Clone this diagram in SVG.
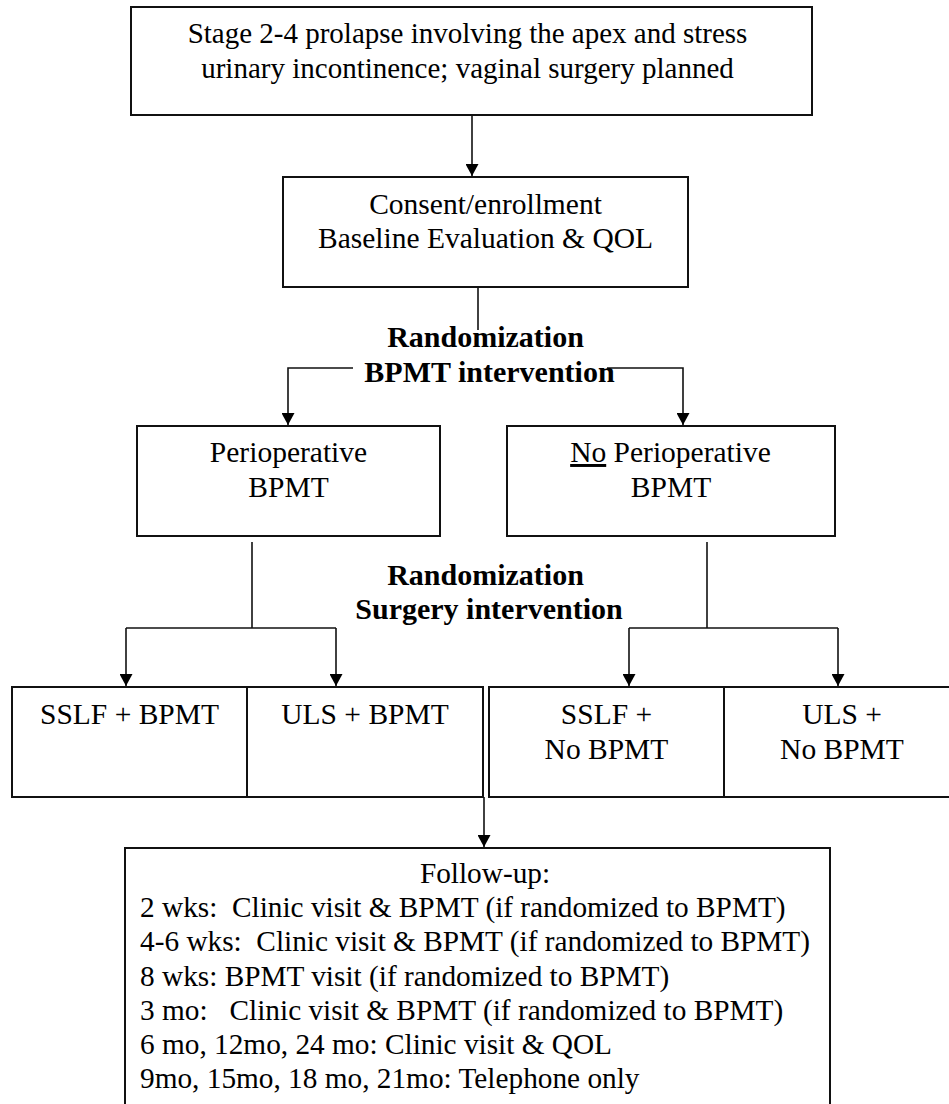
<svg xmlns="http://www.w3.org/2000/svg" width="949" height="1104" viewBox="0 0 949 1104">
<style>
.box{fill:#fff;stroke:#111;stroke-width:2}
.t{font-family:"Liberation Serif","Times New Roman",serif;font-size:29.5px;fill:#000;text-anchor:middle}
.b{font-family:"Liberation Serif","Times New Roman",serif;font-size:30px;font-weight:bold;fill:#000;text-anchor:middle}
.f{font-family:"Liberation Serif","Times New Roman",serif;font-size:29.3px;fill:#000;white-space:pre}
.c{fill:none;stroke:#111;stroke-width:1.6}
</style>
<defs>
<marker id="ah" viewBox="0 0 12 13" refX="12" refY="6.5" markerWidth="12" markerHeight="13" markerUnits="userSpaceOnUse" orient="auto">
<path d="M0,0 L12,6.5 L0,13 z" fill="#000"/>
</marker>
</defs>
<rect width="949" height="1104" fill="#fff"/>

<g id="connectors">
<path class="c" d="M472,115 V176" marker-end="url(#ah)"/>
<path class="c" d="M478,287 V330"/>
<path class="c" d="M353,368 H288 V425" marker-end="url(#ah)"/>
<path class="c" d="M607,368 H683 V425" marker-end="url(#ah)"/>
<path class="c" d="M252,542 V628"/>
<path class="c" d="M126,628 H336"/>
<path class="c" d="M126,628 V686" marker-end="url(#ah)"/>
<path class="c" d="M336,628 V686" marker-end="url(#ah)"/>
<path class="c" d="M707,542 V628"/>
<path class="c" d="M629,628 H838"/>
<path class="c" d="M629,628 V686" marker-end="url(#ah)"/>
<path class="c" d="M838,628 V686" marker-end="url(#ah)"/>
<path class="c" d="M484,797 V847" marker-end="url(#ah)"/>
</g>

<g id="node-eligibility">
<rect class="box" x="131" y="7" width="681" height="108"/>
<text class="t" x="467.5" y="43" style="font-size:29px">Stage 2-4 prolapse involving the apex and stress</text>
<text class="t" x="467.5" y="78" style="font-size:29px">urinary incontinence; vaginal surgery planned</text>
</g>

<g id="node-consent">
<rect class="box" x="283" y="177" width="405" height="110"/>
<text class="t" x="485.5" y="214">Consent/enrollment</text>
<text class="t" x="485.5" y="248">Baseline Evaluation &amp; QOL</text>
</g>

<g id="label-rand1">
<text class="b" x="485.5" y="347">Randomization</text>
<text class="b" x="489.5" y="382">BPMT intervention</text>
</g>

<g id="node-periop">
<rect class="box" x="137" y="426" width="303" height="110"/>
<text class="t" x="288.5" y="462">Perioperative</text>
<text class="t" x="288.5" y="497">BPMT</text>
</g>

<g id="node-noperiop">
<rect class="box" x="507" y="426" width="328" height="110"/>
<text class="t" x="670.5" y="462"><tspan text-decoration="underline">No</tspan> Perioperative</text>
<text class="t" x="671" y="497">BPMT</text>
</g>

<g id="label-rand2">
<text class="b" x="485.5" y="585">Randomization</text>
<text class="b" x="489" y="619">Surgery intervention</text>
</g>

<g id="node-bpmt-arms">
<rect class="box" x="12" y="687" width="471" height="110"/>
<line class="box" x1="247" y1="687" x2="247" y2="797"/>
<text class="t" x="129.5" y="724">SSLF + BPMT</text>
<text class="t" x="365" y="724">ULS + BPMT</text>
</g>

<g id="node-nobpmt-arms">
<rect class="box" x="489" y="687" width="471" height="110"/>
<line class="box" x1="724" y1="687" x2="724" y2="797"/>
<text class="t" x="606.5" y="724">SSLF +</text>
<text class="t" x="606.5" y="759">No BPMT</text>
<text class="t" x="842" y="724">ULS +</text>
<text class="t" x="842" y="759">No BPMT</text>
</g>

<g id="node-followup">
<rect class="box" x="125" y="848" width="705" height="270"/>
<text class="t" x="485" y="883" style="font-size:29.3px">Follow-up:</text>
<text class="f" x="140" y="917">2 wks:  Clinic visit &amp; BPMT (if randomized to BPMT)</text>
<text class="f" x="140" y="951">4-6 wks:  Clinic visit &amp; BPMT (if randomized to BPMT)</text>
<text class="f" x="140" y="986">8 wks: BPMT visit (if randomized to BPMT)</text>
<text class="f" x="140" y="1020">3 mo:   Clinic visit &amp; BPMT (if randomized to BPMT)</text>
<text class="f" x="140" y="1054">6 mo, 12mo, 24 mo: Clinic visit &amp; QOL</text>
<text class="f" x="140" y="1088">9mo, 15mo, 18 mo, 21mo: Telephone only</text>
</g>
</svg>
